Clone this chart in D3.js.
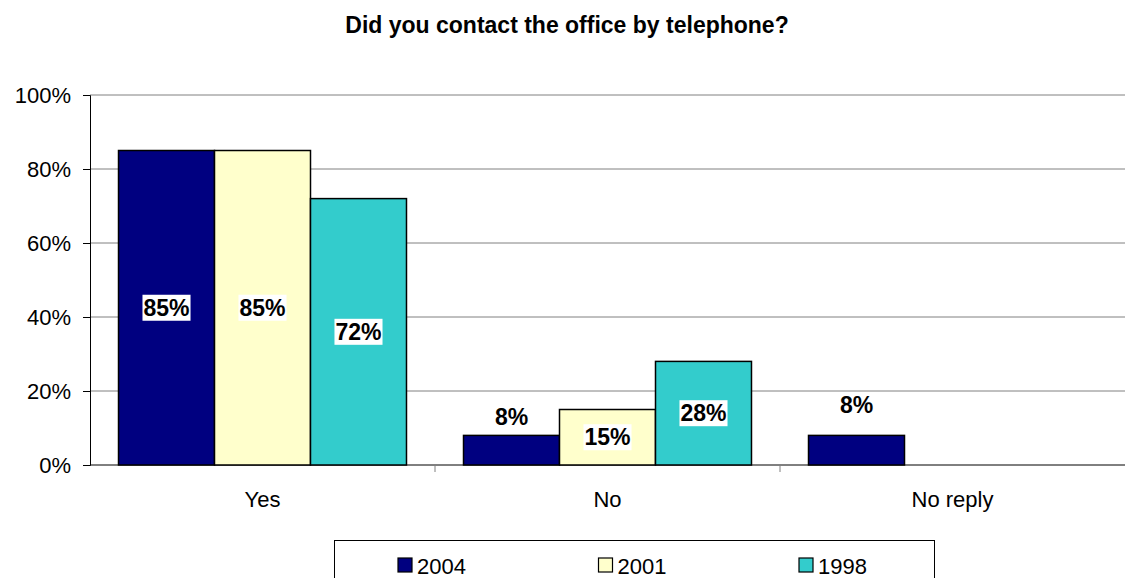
<!DOCTYPE html>
<html>
<head>
<meta charset="utf-8">
<script src="https://cdn.jsdelivr.net/npm/d3@7/dist/d3.min.js"></script>
<style>
  html, body { margin: 0; padding: 0; background: #fff; }
  svg { display: block; font-family: "Liberation Sans", Arial, sans-serif; }
</style>
</head>
<body>
<svg id="chart" width="1126" height="578"></svg>
<script>
// Survey answers by year (percent of respondents)
const categories = ["Yes", "No", "No reply"];
const years = ["2004", "2001", "1998"];
const values2004 = [85, 8, 8];
const values2001 = [85, 15, null];
const values1998 = [72, 28, null];
const yTicks = [0, 20, 40, 60, 80, 100];
const title = "Did you contact the office by telephone?";

const seriesValues = [values2004, values2001, values1998];
const colors = ["#000080", "#FFFFCC", "#33CCCC"];

const svg = d3.select("#chart");
const margin = { left: 90, right: 1, top: 95, bottom: 113 };
const W = 1126, H = 578;
const plotW = W - margin.left - margin.right;
const plotH = H - margin.top - margin.bottom;

const g = svg.append("g").attr("transform", `translate(${margin.left},${margin.top})`);

const x0 = d3.scaleBand().domain(categories).range([0, plotW]).paddingInner(0).paddingOuter(0);
const x1 = d3.scaleBand().domain(years).range([0, x0.bandwidth()]).paddingInner(0).paddingOuter(0.297);
const y = d3.scaleLinear().domain([0, 100]).range([plotH, 0]);

// Title
svg.append("text")
  .attr("x", 567).attr("y", 33)
  .attr("text-anchor", "middle")
  .attr("font-size", 23).attr("font-weight", "bold")
  .attr("fill", "#000")
  .text(title);

// Horizontal gridlines
g.append("g").selectAll("line")
  .data(yTicks.filter(t => t > 0))
  .join("line")
  .attr("x1", 0).attr("x2", plotW)
  .attr("y1", d => y(d)).attr("y2", d => y(d))
  .attr("stroke", "#808080").attr("stroke-width", 1);

// Y axis
const yAxis = d3.axisLeft(y).tickValues(yTicks).tickFormat(d => d + "%").tickSize(7).tickPadding(12);
const ya = g.append("g").call(yAxis);
ya.select(".domain").attr("stroke", "#000");
ya.selectAll(".tick line").attr("stroke", "#000");
ya.selectAll(".tick text").attr("font-size", 22).attr("fill", "#000")
  .attr("font-family", "'Liberation Sans', Arial, sans-serif");

// X axis with ticks on category boundaries
const xa = g.append("g").attr("transform", `translate(0,${plotH})`);
xa.append("line").attr("x1", 0).attr("x2", plotW).attr("y1", 0).attr("y2", 0).attr("stroke", "#000");
xa.selectAll("line.sep")
  .data(categories.slice(1))
  .join("line").attr("class", "sep")
  .attr("x1", d => x0(d)).attr("x2", d => x0(d))
  .attr("y1", 0).attr("y2", 7)
  .attr("stroke", "#808080");
xa.selectAll("text.cat")
  .data(categories)
  .join("text").attr("class", "cat")
  .attr("x", d => x0(d) + x0.bandwidth() / 2)
  .attr("y", 42)
  .attr("text-anchor", "middle")
  .attr("font-size", 22).attr("fill", "#000")
  .text(d => d);

// Bars
const bars = [];
categories.forEach((c, ci) => {
  years.forEach((yr, si) => {
    const v = seriesValues[si][ci];
    if (v != null) bars.push({ cat: c, year: yr, value: v, color: colors[si] });
  });
});

g.append("g").selectAll("rect")
  .data(bars)
  .join("rect")
  .attr("x", d => x0(d.cat) + x1(d.year))
  .attr("y", d => y(d.value))
  .attr("width", x1.bandwidth())
  .attr("height", d => plotH - y(d.value))
  .attr("fill", d => d.color)
  .attr("stroke", "#000").attr("stroke-width", 1.5);

// Value labels: centred in the bar, lifted above bars too short to hold them
const labelG = g.append("g");
bars.forEach(d => {
  const cx = x0(d.cat) + x1(d.year) + x1.bandwidth() / 2;
  const top = y(d.value), bottom = plotH;
  let cy = (top + bottom) / 2;
  if (bottom - top < 40) cy = top - (d.cat === "No reply" ? 30 : 18);
  const t = labelG.append("text")
    .attr("x", cx).attr("y", cy)
    .attr("text-anchor", "middle").attr("dominant-baseline", "central")
    .attr("font-size", 23).attr("font-weight", "bold").attr("fill", "#000")
    .text(d.value + "%");
  const bb = t.node().getBBox();
  labelG.insert("rect", () => t.node())
    .attr("x", bb.x - 1).attr("y", cy - 13)
    .attr("width", bb.width + 2).attr("height", 26)
    .attr("fill", "#fff");
});

// Legend
const lg = svg.append("g");
lg.append("rect").attr("x", 334.5).attr("y", 540.5).attr("width", 600).attr("height", 50)
  .attr("fill", "#fff").attr("stroke", "#000").attr("stroke-width", 1);
const legendX = d3.scalePoint().domain(years).range([398, 799]);
years.forEach((yr, i) => {
  const lx = legendX(yr);
  lg.append("rect").attr("x", lx).attr("y", 558).attr("width", 14).attr("height", 14)
    .attr("fill", colors[i]).attr("stroke", "#000").attr("stroke-width", 1.2);
  lg.append("text").attr("x", lx + 19).attr("y", 574)
    .attr("font-size", 22).attr("fill", "#000").text(yr);
});
</script>
</body>
</html>
